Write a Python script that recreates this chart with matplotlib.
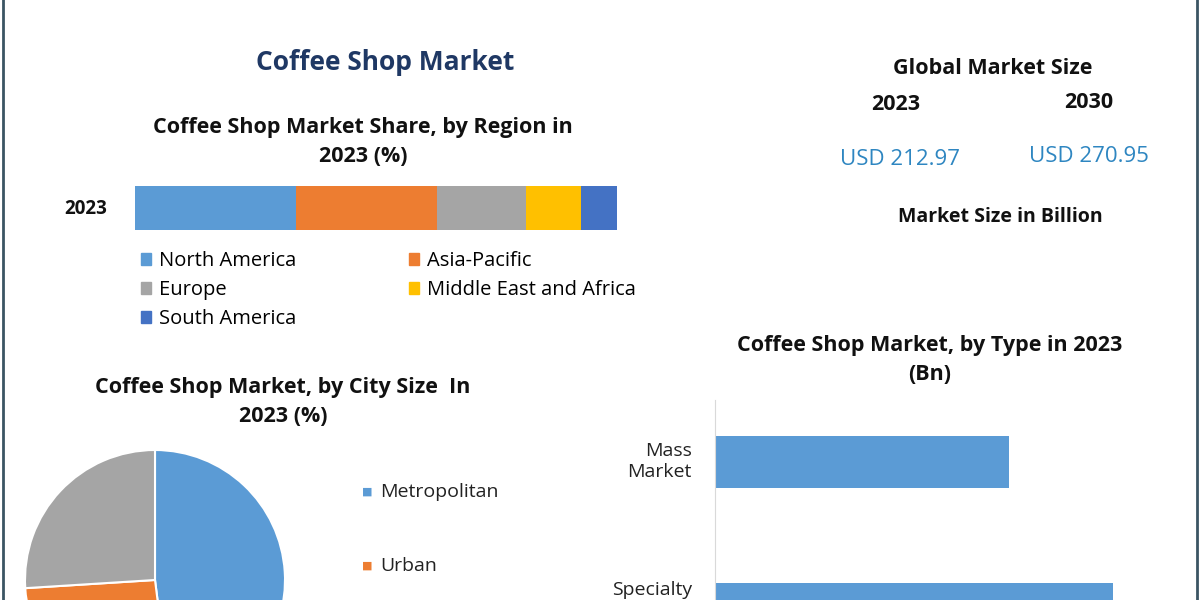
import matplotlib
matplotlib.use("Agg")
import matplotlib.pyplot as plt
from matplotlib.patches import Rectangle, Patch
import matplotlib.transforms as mtransforms

plt.rcParams['font.family'] = ['Open Sans', 'DejaVu Sans']

regions = ["North America", "Asia-Pacific", "Europe", "Middle East and Africa", "South America"]
region_share = [33.4, 29.3, 18.5, 11.4, 7.5]
region_colors = ["#5b9bd5", "#ed7d31", "#a5a5a5", "#ffc000", "#4472c4"]

city = ["Metropolitan", "Urban", "Rural"]
city_share = [48, 26, 26]
city_colors = ["#5b9bd5", "#ed7d31", "#a5a5a5"]

types = ["Mass\nMarket", "Specialty"]
type_values = [90.5, 122.5]

W, H = 1200, 600
fig = plt.figure(figsize=(12, 6), dpi=100)
fig.patch.set_facecolor("white")

def px_axes(x0, y0, x1, y1):
    return fig.add_axes([x0 / W, 1 - y1 / H, (x1 - x0) / W, (y1 - y0) / H])

fig.add_artist(Rectangle((3 / W, -0.01), 1194 / W, 1.02, transform=fig.transFigure,
                         fill=False, edgecolor="#3b5563", lw=2))

fig.text(385 / W, 1 - 62 / H, "Coffee Shop Market", ha="center", va="center",
         fontsize=19, fontweight="bold", color="#1f3864")
fig.text(993 / W, 1 - 68 / H, "Global Market Size", ha="center", va="center",
         fontsize=15.5, fontweight="bold", color="#111")
fig.text(896 / W, 1 - 104 / H, "2023", ha="center", va="center", fontsize=15.5, fontweight="bold", color="#111")
fig.text(1089 / W, 1 - 103 / H, "2030", ha="center", va="center", fontsize=15.5, fontweight="bold", color="#111")
fig.text(900 / W, 1 - 160 / H, "USD 212.97", ha="center", va="center", fontsize=16, color="#2e86c1")
fig.text(1089 / W, 1 - 156 / H, "USD 270.95", ha="center", va="center", fontsize=16, color="#2e86c1")
fig.text(1000 / W, 1 - 217 / H, "Market Size in Billion", ha="center", va="center",
         fontsize=14, fontweight="bold", color="#111")

fig.text(363 / W, 1 - 142 / H, "Coffee Shop Market Share, by Region in\n2023 (%)", ha="center",
         va="center", fontsize=15.5, fontweight="bold", color="#111", linespacing=1.45)
ax1 = px_axes(135, 186, 617, 230)
left = 0
for v, c in zip(region_share, region_colors):
    ax1.barh([0], [v], left=left, color=c, height=1.0)
    left += v
ax1.set_xlim(0, sum(region_share))
ax1.set_ylim(-0.5, 0.5)
ax1.axis("off")
fig.text(86 / W, 1 - 209 / H, "2023", ha="center", va="center", fontsize=13.5, fontweight="bold", color="#111")
order = [0, 2, 4, 1, 3]
handles = [Patch(color=region_colors[i], label=regions[i]) for i in order]
fig.legend(handles=handles, loc="upper left", bbox_to_anchor=(141 / W, 1 - 251 / H), ncol=2,
           frameon=False, fontsize=14.5, handlelength=0.5, handleheight=0.5, handletextpad=0.4,
           columnspacing=5.6, labelspacing=0.45, borderaxespad=0, borderpad=0)

fig.text(283 / W, 1 - 402 / H, "Coffee Shop Market, by City Size  In\n2023 (%)", ha="center",
         va="center", fontsize=15.5, fontweight="bold", color="#111", linespacing=1.45)
ax2 = px_axes(25, 450, 285, 710)
ax2.pie(city_share, colors=city_colors, startangle=90, counterclock=False, radius=1,
        wedgeprops=dict(edgecolor="white", linewidth=1.5))
ax2.set_aspect("auto")
ax2.set_xlim(-1, 1)
ax2.set_ylim(-1, 1)
ax2.axis("off")
for i, (name, yy) in enumerate([("Metropolitan", 492), ("Urban", 566)]):
    fig.text(362 / W, 1 - yy / H, "■", ha="left", va="center", fontsize=8, color=city_colors[i])
    fig.text(380 / W, 1 - yy / H, name, ha="left", va="center", fontsize=14, color="#222")

fig.text(930 / W, 1 - 360 / H, "Coffee Shop Market, by Type in 2023\n(Bn)", ha="center",
         va="center", fontsize=15.5, fontweight="bold", color="#111", linespacing=1.45)
ax3 = px_axes(715, 400, 1180, 690)
ax3.barh([0, 1], type_values, color="#5b9bd5", height=0.35)
ax3.set_xlim(0, 143)
ax3.set_ylim(1.55, -0.42)
ax3.set_yticks([0, 1])
ax3.set_yticklabels([])
ax3.tick_params(axis="y", length=0)
ax3.set_xticks([])
trans = mtransforms.blended_transform_factory(ax3.transAxes, ax3.transData)
ax3.text(-0.05, 0, types[0], transform=trans, ha="right", va="center", fontsize=14, color="#222")
ax3.text(-0.05, 0.87, types[1], transform=trans, ha="right", va="center", fontsize=14, color="#222")
for s in ["top", "right", "bottom"]:
    ax3.spines[s].set_visible(False)
ax3.spines["left"].set_color("#d9d9d9")

fig.savefig("out.png", dpi=100)
